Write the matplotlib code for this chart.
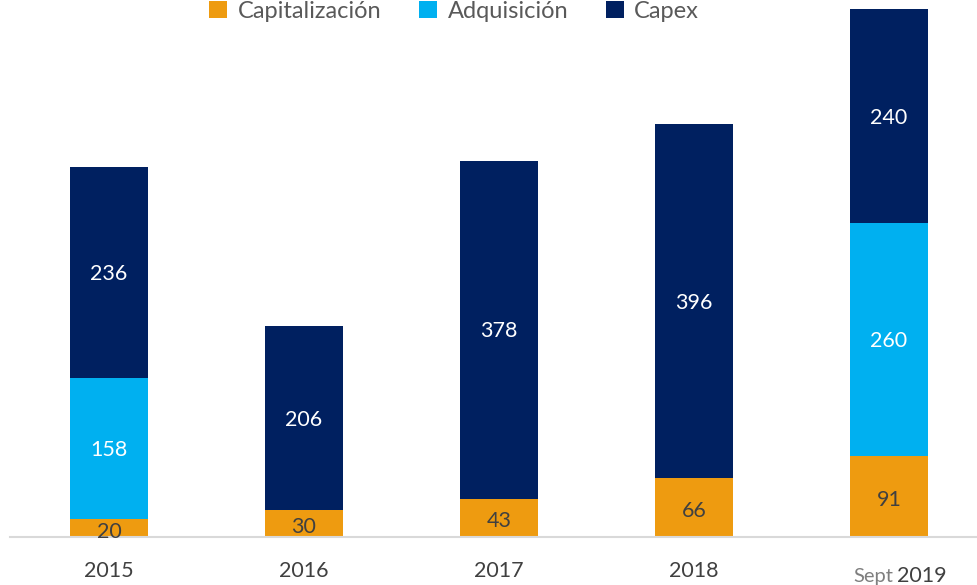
import matplotlib.pyplot as plt
import numpy as np

plt.rcParams["font.family"] = ["Lato", "DejaVu Sans"]

years = ["2015", "2016", "2017", "2018", "2019"]
capitalizacion = [20, 30, 43, 66, 91]
adquisicion = [158, 0, 0, 0, 260]
capex = [236, 206, 378, 396, 240]

c_cap = "#EE9B10"
c_adq = "#00B0F0"
c_capex = "#002060"
dark = "#404040"

fig = plt.figure(figsize=(9.77, 5.85), dpi=100)
ax = fig.add_axes([10 / 977, 48 / 585, 967 / 977, 537 / 585])

x = np.arange(len(years))
w = 0.4
cap = np.array(capitalizacion)
adq = np.array(adquisicion)
cpx = np.array(capex)

b1 = ax.bar(x, cap, w, color=c_cap, label="Capitalización")
b2 = ax.bar(x, adq, w, bottom=cap, color=c_adq, label="Adquisición")
b3 = ax.bar(x, cpx, w, bottom=cap + adq, color=c_capex, label="Capex")

for i in range(len(x)):
    ax.text(x[i], cap[i] / 2 - 4, str(cap[i]), ha="center", va="center",
            fontsize=15.5, color=dark)
    if adq[i] > 0:
        ax.text(x[i], cap[i] + adq[i] / 2 - 2, str(adq[i]), ha="center",
                va="center", fontsize=15.5, color="white")
    ax.text(x[i], cap[i] + adq[i] + cpx[i] / 2 - 2, str(cpx[i]), ha="center",
            va="center", fontsize=15.5, color="white")

ax.set_xlim(-99 / 195, 4 + 88 / 195)
ax.set_ylim(0, 601)
for s in ["top", "right", "left"]:
    ax.spines[s].set_visible(False)
ax.spines["bottom"].set_color("#D9D9D9")
ax.spines["bottom"].set_linewidth(1.5)
ax.set_yticks([])
ax.set_xticks(x[:4])
ax.set_xticklabels(years[:4], fontsize=15.5, color=dark)
ax.tick_params(axis="x", length=0, pad=17)

trans = ax.get_xaxis_transform()
ax.text(4.02, -0.073, "Sept", transform=trans, ha="right", va="center",
        fontsize=14.5, color="#7F7F7F")
ax.text(4.04, -0.073, years[4], transform=trans, ha="left", va="center",
        fontsize=15.5, color=dark)

fig.legend(handles=[b1, b2, b3], loc="center", bbox_to_anchor=(0.465, 0.981),
           ncol=3, frameon=False, fontsize=17, labelcolor="#595959",
           handlelength=0.75, handleheight=0.75, handletextpad=0.45,
           columnspacing=1.6)

fig.savefig("out.png", dpi=100)
